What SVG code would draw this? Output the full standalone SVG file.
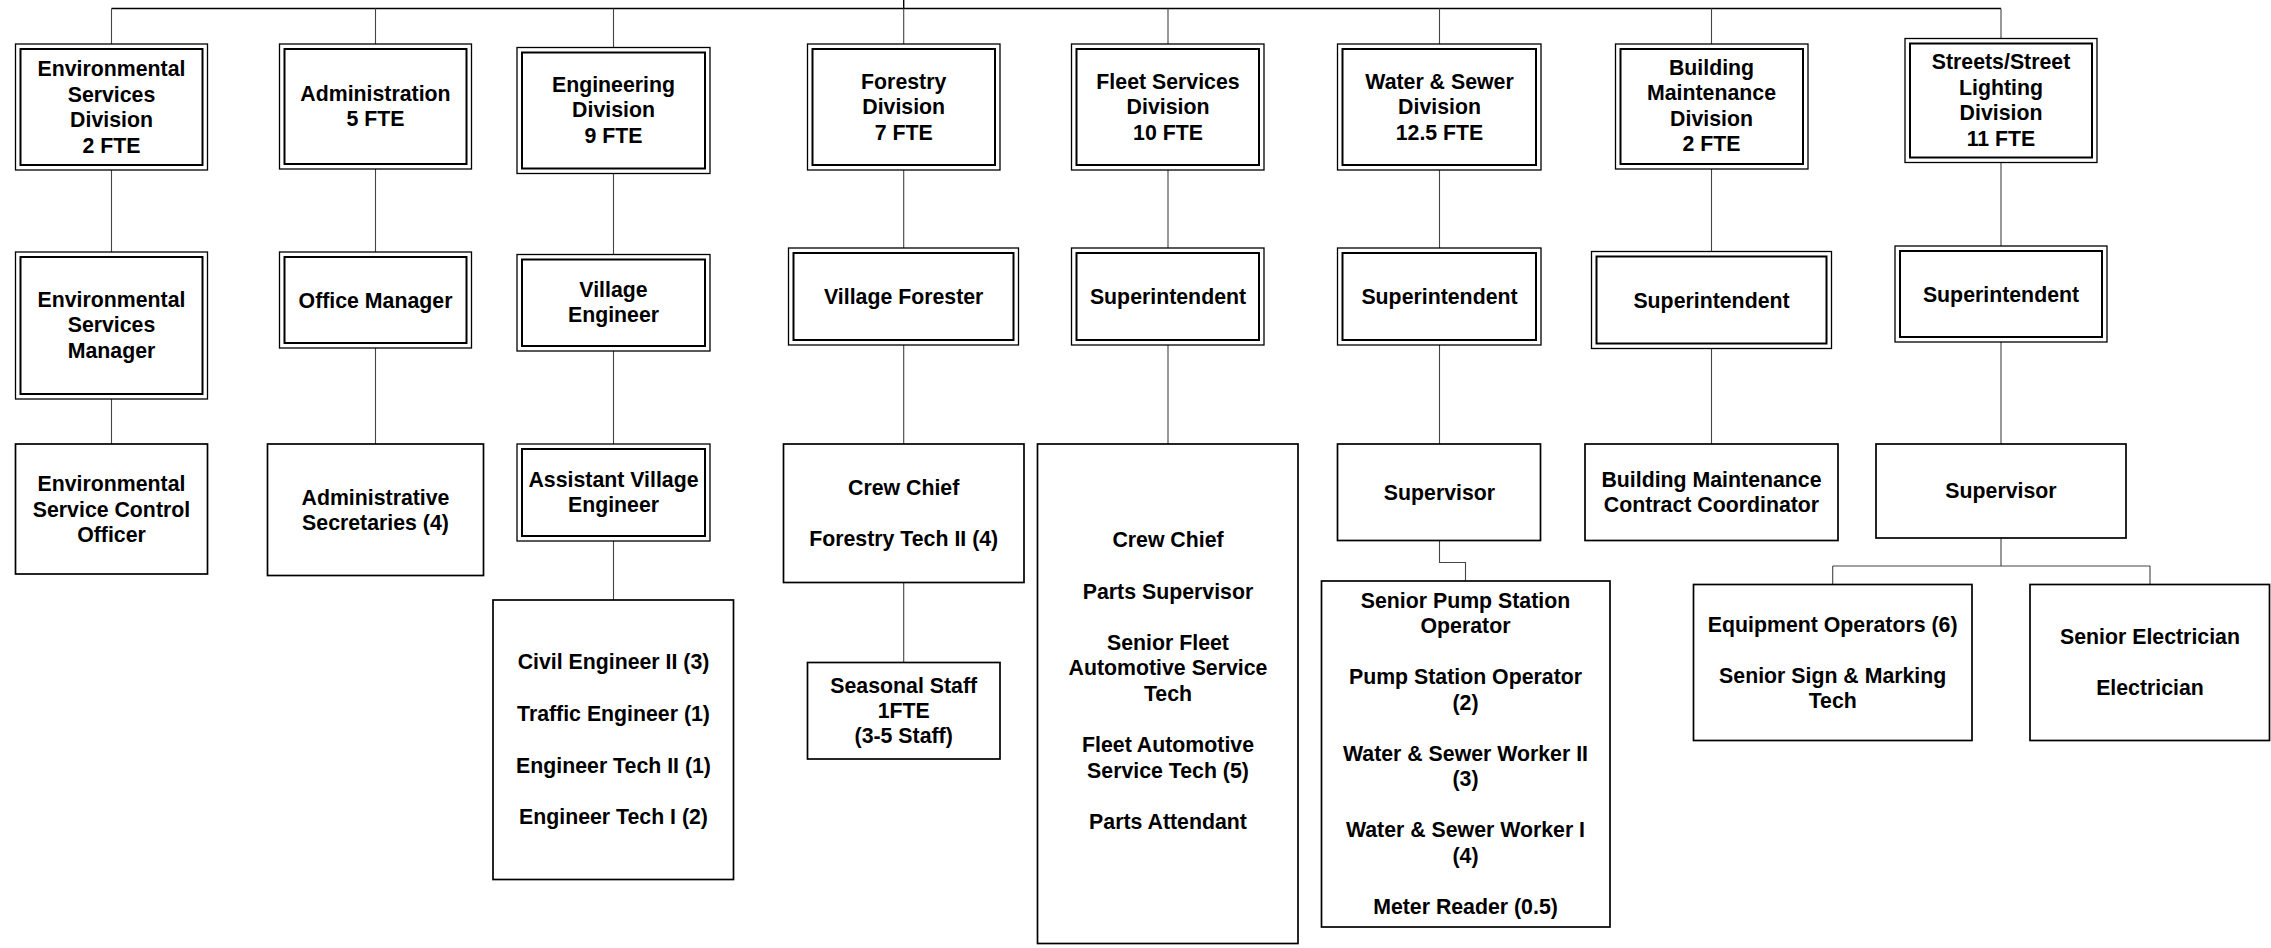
<svg xmlns="http://www.w3.org/2000/svg" width="2271" height="948" viewBox="0 0 2271 948">
<style>
.o{fill:#fff;stroke:#000;stroke-width:1.3}
.i{fill:none;stroke:#000;stroke-width:2}
.s{fill:#fff;stroke:#000;stroke-width:1.7}
.c{fill:none;stroke:#444;stroke-width:1.1}
.t{fill:none;stroke:#000;stroke-width:1.4}
text{font-family:"Liberation Sans",Arial,sans-serif;font-weight:bold;font-size:21.3px;text-anchor:middle;fill:#000}
</style>
<rect width="2271" height="948" fill="#fff"/>
<g id="connectors">
<path class="t" d="M903.7 0 V8.5" stroke-width="2.2"/>
<path class="t" d="M111.5 8.5 H2001"/>
<path class="c" d="M111.5 8.5 V44 M375.5 8.5 V44 M613.5 8.5 V47.5 M903.7 8.5 V44 M1168 8.5 V44 M1439.5 8.5 V44 M1711.5 8.5 V44 M2001 8.5 V38.5"/>
<path class="c" d="M111.5 170 V252 M375.5 169 V252 M613.5 173.5 V254.5 M903.7 170 V248 M1168 170 V248 M1439.5 170 V248 M1711.5 169 V251.5 M2001 162.5 V246"/>
<path class="c" d="M111.5 399 V444 M375.5 348 V444 M613.5 351 V444 M903.7 345 V444 M1168 345 V444 M1439.5 345 V444 M1711.5 348.5 V444 M2001 342 V444"/>
<path class="c" d="M613.5 541 V600 M903.7 582.5 V662.5 M1439.5 540.5 V562.5 H1465.5 V581 M2001 538 V566 M1832.7 566 H2150 M1832.7 566 V584.5 M2150 566 V584.5"/>
</g>
<g id="env-div"><rect class="o" x="15.5" y="44" width="192" height="126"/><rect class="i" x="20.5" y="49" width="182" height="116"/>
<text x="111.5" y="76">Environmental</text><text x="111.5" y="101.5">Services</text><text x="111.5" y="127">Division</text><text x="111.5" y="152.5">2 FTE</text></g>
<g id="admin-div"><rect class="o" x="279.5" y="44" width="192" height="125"/><rect class="i" x="284.5" y="49" width="182" height="115"/>
<text x="375.5" y="101">Administration</text><text x="375.5" y="126">5 FTE</text></g>
<g id="eng-div"><rect class="o" x="517" y="47.5" width="193" height="126"/><rect class="i" x="522" y="52.5" width="183" height="116"/>
<text x="613.5" y="92">Engineering</text><text x="613.5" y="117">Division</text><text x="613.5" y="142.5">9 FTE</text></g>
<g id="forestry-div"><rect class="o" x="807.5" y="44" width="192.5" height="126"/><rect class="i" x="812.5" y="49" width="182.5" height="116"/>
<text x="903.7" y="88.5">Forestry</text><text x="903.7" y="114">Division</text><text x="903.7" y="139.5">7 FTE</text></g>
<g id="fleet-div"><rect class="o" x="1071.5" y="44" width="192.5" height="126"/><rect class="i" x="1076.5" y="49" width="182.5" height="116"/>
<text x="1168" y="88.5">Fleet Services</text><text x="1168" y="114">Division</text><text x="1168" y="139.5">10 FTE</text></g>
<g id="ws-div"><rect class="o" x="1337.5" y="44" width="203.5" height="126"/><rect class="i" x="1342.5" y="49" width="193.5" height="116"/>
<text x="1439.5" y="88.5">Water &amp; Sewer</text><text x="1439.5" y="114">Division</text><text x="1439.5" y="139.5">12.5 FTE</text></g>
<g id="bm-div"><rect class="o" x="1615.5" y="44" width="192.5" height="125"/><rect class="i" x="1620.5" y="49" width="182.5" height="115"/>
<text x="1711.5" y="74.5">Building</text><text x="1711.5" y="100">Maintenance</text><text x="1711.5" y="125.5">Division</text><text x="1711.5" y="151">2 FTE</text></g>
<g id="streets-div"><rect class="o" x="1905" y="38.5" width="192" height="124"/><rect class="i" x="1910" y="43.5" width="182" height="114"/>
<text x="2001" y="69">Streets/Street</text><text x="2001" y="94.5">Lighting</text><text x="2001" y="120">Division</text><text x="2001" y="145.5">11 FTE</text></g>

<g id="env-mgr"><rect class="o" x="15.5" y="252" width="192" height="147"/><rect class="i" x="20.5" y="257" width="182" height="137"/>
<text x="111.5" y="306.5">Environmental</text><text x="111.5" y="332">Services</text><text x="111.5" y="357.5">Manager</text></g>
<g id="office-mgr"><rect class="o" x="279.5" y="252" width="192" height="96"/><rect class="i" x="284.5" y="257" width="182" height="86"/>
<text x="375.5" y="307.5">Office Manager</text></g>
<g id="village-eng"><rect class="o" x="517" y="254.5" width="193" height="96.5"/><rect class="i" x="522" y="259.5" width="183" height="86.5"/>
<text x="613.5" y="296.5">Village</text><text x="613.5" y="322">Engineer</text></g>
<g id="village-forester"><rect class="o" x="788.5" y="248" width="230" height="97"/><rect class="i" x="793.5" y="253" width="220" height="87"/>
<text x="903.7" y="303.5">Village Forester</text></g>
<g id="fleet-super"><rect class="o" x="1071.5" y="248" width="192.5" height="97"/><rect class="i" x="1076.5" y="253" width="182.5" height="87"/>
<text x="1168" y="303.5">Superintendent</text></g>
<g id="ws-super"><rect class="o" x="1337.5" y="248" width="203.5" height="97"/><rect class="i" x="1342.5" y="253" width="193.5" height="87"/>
<text x="1439.5" y="303.5">Superintendent</text></g>
<g id="bm-super"><rect class="o" x="1591.5" y="251.5" width="240" height="97"/><rect class="i" x="1596.5" y="256.5" width="230" height="87"/>
<text x="1711.5" y="307.5">Superintendent</text></g>
<g id="streets-super"><rect class="o" x="1895" y="246" width="212" height="96"/><rect class="i" x="1900" y="251" width="202" height="86"/>
<text x="2001" y="301.5">Superintendent</text></g>

<g id="env-officer"><rect class="s" x="15.5" y="444" width="192" height="130"/>
<text x="111.5" y="491">Environmental</text><text x="111.5" y="516.5">Service Control</text><text x="111.5" y="541.5">Officer</text></g>
<g id="admin-sec"><rect class="s" x="267.5" y="444" width="216" height="131.5"/>
<text x="375.5" y="504.5">Administrative</text><text x="375.5" y="529.5">Secretaries (4)</text></g>
<g id="asst-eng"><rect class="o" x="517" y="444" width="193" height="97"/><rect class="i" x="522" y="449" width="183" height="87"/>
<text x="613.5" y="486.5">Assistant Village</text><text x="613.5" y="511.5">Engineer</text></g>
<g id="forestry-crew"><rect class="s" x="783.5" y="444" width="240.5" height="138.5"/>
<text x="903.7" y="494.5">Crew Chief</text><text x="903.7" y="545.5">Forestry Tech II (4)</text></g>
<g id="fleet-staff"><rect class="s" x="1037.5" y="444" width="260.5" height="499.5"/>
<text x="1168" y="547.4">Crew Chief</text><text x="1168" y="598.6">Parts Supervisor</text><text x="1168" y="649.8">Senior Fleet</text><text x="1168" y="675.4">Automotive Service</text><text x="1168" y="701">Tech</text><text x="1168" y="752.2">Fleet Automotive</text><text x="1168" y="777.8">Service Tech (5)</text><text x="1168" y="829">Parts Attendant</text></g>
<g id="ws-supervisor"><rect class="s" x="1337.5" y="444" width="203" height="96.5"/>
<text x="1439.5" y="500.2">Supervisor</text></g>
<g id="bm-coord"><rect class="s" x="1585" y="444" width="253" height="96.5"/>
<text x="1711.5" y="487">Building Maintenance</text><text x="1711.5" y="511.8">Contract Coordinator</text></g>
<g id="streets-supervisor"><rect class="s" x="1876" y="444" width="250" height="94"/>
<text x="2001" y="497.6">Supervisor</text></g>

<g id="eng-staff"><rect class="s" x="493" y="600" width="240.5" height="279.5"/>
<text x="613.5" y="669.3">Civil Engineer II (3)</text><text x="613.5" y="721">Traffic Engineer (1)</text><text x="613.5" y="772.6">Engineer Tech II (1)</text><text x="613.5" y="823.8">Engineer Tech I (2)</text></g>
<g id="seasonal"><rect class="s" x="807.5" y="662.5" width="192.5" height="96.5"/>
<text x="903.7" y="692.5">Seasonal Staff</text><text x="903.7" y="717.8">1FTE</text><text x="903.7" y="743">(3-5 Staff)</text></g>
<g id="ws-staff"><rect class="s" x="1321.5" y="581" width="288.5" height="346"/>
<text x="1465.5" y="607.9">Senior Pump Station</text><text x="1465.5" y="633.4">Operator</text><text x="1465.5" y="684.4">Pump Station Operator</text><text x="1465.5" y="709.9">(2)</text><text x="1465.5" y="760.9">Water &amp; Sewer Worker II</text><text x="1465.5" y="786.4">(3)</text><text x="1465.5" y="837.4">Water &amp; Sewer Worker I</text><text x="1465.5" y="862.9">(4)</text><text x="1465.5" y="913.9">Meter Reader (0.5)</text></g>
<g id="equip-ops"><rect class="s" x="1693.5" y="584.5" width="278.5" height="156"/>
<text x="1832.7" y="631.6">Equipment Operators (6)</text><text x="1832.7" y="683">Senior Sign &amp; Marking</text><text x="1832.7" y="708">Tech</text></g>
<g id="electricians"><rect class="s" x="2030" y="584.5" width="239.5" height="156"/>
<text x="2150" y="644.3">Senior Electrician</text><text x="2150" y="695">Electrician</text></g>
</svg>
